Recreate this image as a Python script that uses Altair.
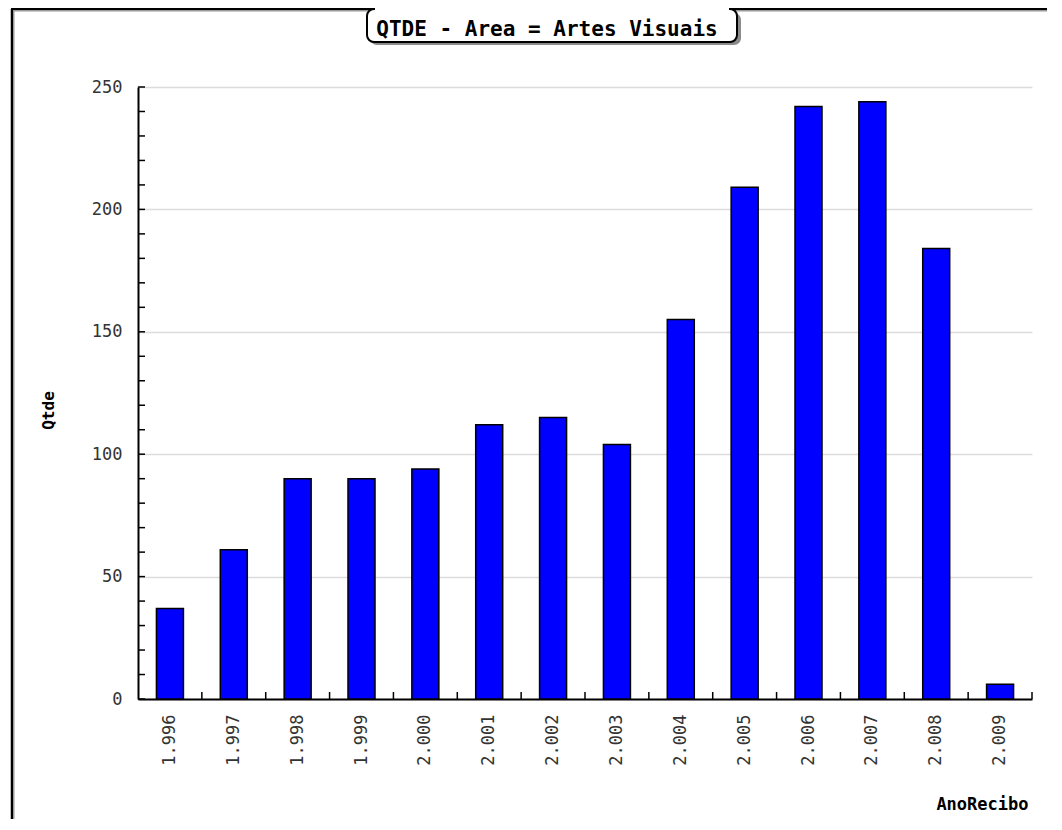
import altair as alt
import pandas as pd

# ---- data ----
years = ["1.996", "1.997", "1.998", "1.999", "2.000", "2.001", "2.002",
         "2.003", "2.004", "2.005", "2.006", "2.007", "2.008", "2.009"]
qtde = [37, 61, 90, 90, 94, 112, 115, 104, 155, 209, 242, 244, 184, 6]
y_label_values = [0, 50, 100, 150, 200, 250]
y_minor_ticks = list(range(0, 251, 10))
title_text = "QTDE - Area = Artes Visuais"

W, H = 894, 612
MONO = "DejaVu Sans Mono"

df = pd.DataFrame({"AnoRecibo": years, "Qtde": qtde})
ticks_df = pd.DataFrame({"t": y_minor_ticks})
one = alt.Data(values=[{"k": 1}])

xscale = alt.Scale(domain=years, paddingInner=0, paddingOuter=0)
yscale = alt.Scale(domain=[0, 250], nice=False, zero=True)

x_axis = alt.Axis(title="AnoRecibo", ticks=False, tickSize=0,
                  labelAngle=270, labelAlign="right",
                  labelBaseline="middle", labelPadding=15,
                  labelFont=MONO, labelFontSize=17,
                  labelColor="#333333",
                  domainColor="#000000", domainWidth=2,
                  grid=False,
                  titleFont=MONO, titleFontWeight="bold",
                  titleFontSize=17, titleColor="#000000",
                  titleAnchor="end", titleAlign="right",
                  titleBaseline="alphabetic", titleX=W - 4,
                  titleY=110)
y_axis = alt.Axis(title="Qtde", values=y_label_values, ticks=False,
                  tickSize=0, labelPadding=16, labelFont=MONO,
                  labelFontSize=17, labelColor="#333333",
                  domainColor="#000000", domainWidth=2,
                  grid=True, gridColor="#dcdcdc", gridWidth=1.5,
                  titleFont=MONO, titleFontWeight="bold",
                  titleFontSize=16, titleColor="#000000",
                  titleAngle=270, titleAlign="center",
                  titleBaseline="middle", titleX=-90, titleY=323)

# ---- decorations (frame + title box) ----
frame_left = alt.Chart(one).mark_rule(color="#000000", strokeWidth=2.5).encode(
    x=alt.value(-126), y=alt.value(-78), y2=alt.value(H + 130))
frame_left_sh = alt.Chart(one).mark_rule(color="#9a9a9a", strokeWidth=1).encode(
    x=alt.value(-124), y=alt.value(-76), y2=alt.value(H + 130))
frame_top = alt.Chart(one).mark_rule(color="#000000", strokeWidth=2.5).encode(
    y=alt.value(-78), x=alt.value(-127), x2=alt.value(W + 40))
frame_top_sh = alt.Chart(one).mark_rule(color="#9a9a9a", strokeWidth=1).encode(
    y=alt.value(-76), x=alt.value(-124), x2=alt.value(W + 40))

box_shadow = alt.Chart(one).mark_rect(color="#8c8c8c", cornerRadius=7).encode(
    x=alt.value(232), x2=alt.value(603), y=alt.value(-74), y2=alt.value(-42))
box = alt.Chart(one).mark_rect(fill="#ffffff", stroke="#000000", strokeWidth=2,
                               cornerRadius=7).encode(
    x=alt.value(229), x2=alt.value(599), y=alt.value(-78), y2=alt.value(-45))
box_cover = alt.Chart(one).mark_rule(color="#ffffff", strokeWidth=4).encode(
    y=alt.value(-78), x=alt.value(237), x2=alt.value(591))
title = alt.Chart(one).mark_text(font=MONO, fontWeight="bold", fontSize=21,
                                 align="center", baseline="middle",
                                 color="#000000").encode(
    x=alt.value(409), y=alt.value(-57), text=alt.value(title_text))

# ---- chart ----
bars = alt.Chart(df).mark_bar(size=27, color="#0000ff", stroke="#000000",
                              strokeWidth=1.5).encode(
    x=alt.X("AnoRecibo:N", scale=xscale, sort=years, axis=x_axis),
    y=alt.Y("Qtde:Q", scale=yscale, axis=y_axis),
)

y_ticks = alt.Chart(ticks_df).mark_rule(color="#000000", strokeWidth=1.5).encode(
    y=alt.Y("t:Q", scale=yscale, axis=y_axis),
    x=alt.value(0), x2=alt.value(7))

x_ticks = alt.Chart(df).mark_rule(color="#000000", strokeWidth=1.5).encode(
    x=alt.X("AnoRecibo:N", scale=xscale, sort=years, bandPosition=1,
            axis=x_axis),
    y=alt.value(H), y2=alt.value(H - 7))

chart = alt.layer(
    frame_left_sh, frame_top_sh, frame_left, frame_top,
    box_shadow, box, box_cover, title,
    bars, y_ticks, x_ticks,
).properties(
    width=W, height=H,
    background="#ffffff",
    autosize=alt.AutoSizeParams(type="none"),
    padding={"left": 130, "top": 79, "right": 15, "bottom": 120},
).configure_view(strokeWidth=0)

chart.save("out.html", embed_options={"renderer": "svg", "actions": False})
